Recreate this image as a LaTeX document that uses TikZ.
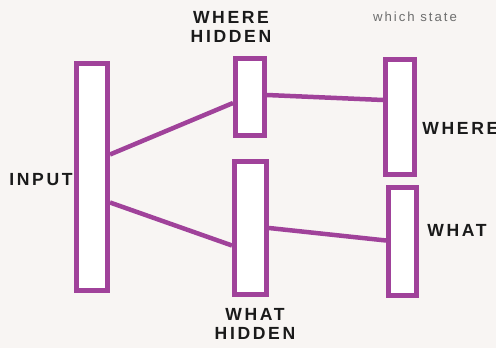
\documentclass[tikz,border=0pt]{standalone}
\usepackage{fontspec}
\usepackage{xcolor}
\usetikzlibrary{positioning,calc}
\newfontfamily\handfont[LetterSpace=15]{Liberation Sans}
\definecolor{cMarker}{HTML}{A0429A}
\definecolor{cPaper}{HTML}{F8F5F3}
\definecolor{cInk}{HTML}{1A1A1A}
\definecolor{cPencil}{HTML}{6E6E6E}
\tikzset{
  bar/.style={draw=cMarker, fill=white, line width=0.1cm, inner sep=0pt},
  wire/.style={draw=cMarker, line width=0.09cm},
  lbl/.style={font=\handfont\fontsize{10}{10.5}\selectfont\bfseries, text=cInk,
              align=center, inner sep=0pt},
  note/.style={font=\handfont\fontsize{7.5}{9}\selectfont, text=cPencil, inner sep=0pt},
}

\begin{document}
\begin{tikzpicture}[x=0.02cm, y=-0.02cm]

\fill[cPaper] (0,0) rectangle (496,348);
\useasboundingbox (0,0) rectangle (496,348);

% ========== LAYERS ==========
\node[bar, minimum width=0.62cm, minimum height=4.56cm] (input)   at (92,177)    {};
\node[bar, minimum width=0.58cm, minimum height=1.54cm] (wherehid) at (250,97)   {};
\node[bar, minimum width=0.64cm, minimum height=2.66cm] (whathid)  at (250.5,228) {};
\node[bar, minimum width=0.58cm, minimum height=2.30cm] (whereout) at (400,117)  {};
\node[bar, minimum width=0.56cm, minimum height=2.16cm] (whatout)  at (402.5,241.5) {};

% ========== WIRES ==========
\draw[wire] ([yshift=0.45cm]input.east)  -- ([yshift=-0.12cm]wherehid.west);
\draw[wire] ([yshift=-0.51cm]input.east) -- ([yshift=-0.35cm]whathid.west);
\draw[wire] ([yshift=0.04cm]wherehid.east) -- ([yshift=0.34cm]whereout.west);
\draw[wire] (whathid.east) -- ([yshift=0.02cm]whatout.west);

% ========== LABELS ==========
\node[lbl] (inputlbl)    at (41,180)  {INPUT};
\node[lbl] (wherehidlbl) at (231,27)  {WHERE\\HIDDEN};
\node[lbl] (whathidlbl)  at (255,324) {WHAT\\HIDDEN};
\node[lbl, anchor=west] (wherelbl) at (422,128) {WHERE};
\node[lbl, anchor=west] (whatlbl)  at (427,230) {WHAT};
\node[note] (statelbl) at (415,17) {which state};

\end{tikzpicture}
\end{document}
